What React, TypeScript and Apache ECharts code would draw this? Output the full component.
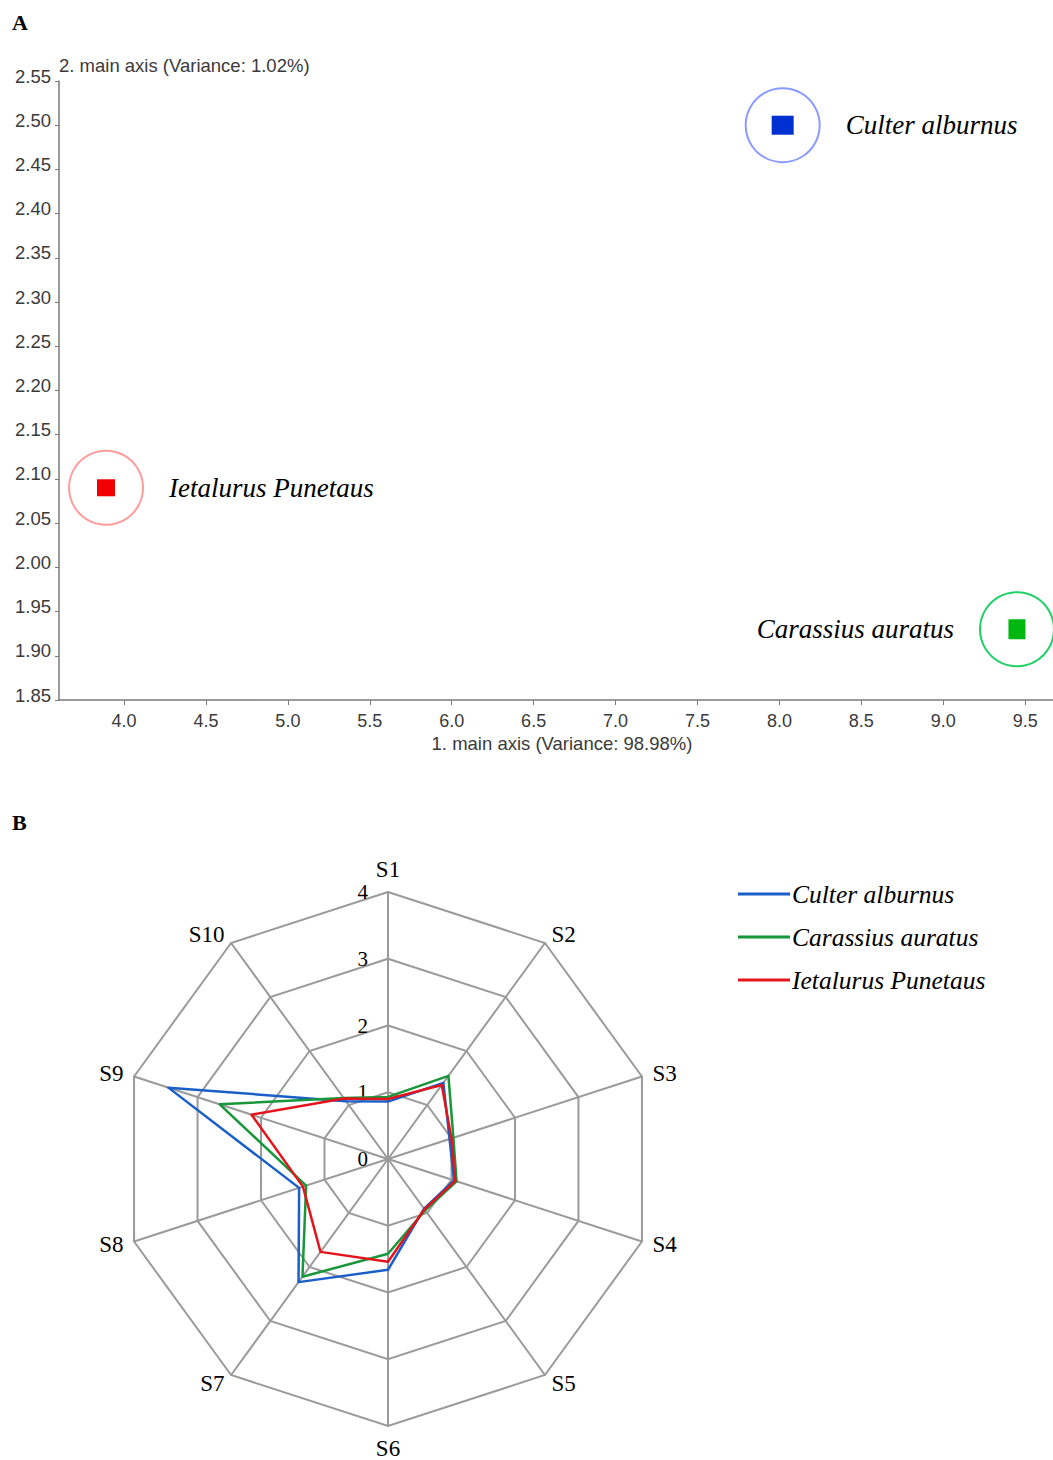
import React, { useEffect, useRef } from "react";
import * as echarts from "echarts";

// ---- Data (panel A: PCA scatter) ----
const speciesNames = ["Culter alburnus", "Carassius auratus", "Ietalurus Punetaus"];
const pcaX = [8.02, 9.45, 3.89];
const pcaY = [2.5, 1.93, 2.09];
const xTickValues = [4.0, 4.5, 5.0, 5.5, 6.0, 6.5, 7.0, 7.5, 8.0, 8.5, 9.0, 9.5];
const yTickValues = [1.85, 1.9, 1.95, 2.0, 2.05, 2.1, 2.15, 2.2, 2.25, 2.3, 2.35, 2.4, 2.45, 2.5, 2.55];
const xAxisTitle = "1. main axis (Variance: 98.98%)";
const yAxisTitle = "2. main axis (Variance: 1.02%)";

// ---- Data (panel B: radar) ----
const sensorNames = ["S1", "S2", "S3", "S4", "S5", "S6", "S7", "S8", "S9", "S10"];
const culterValues = [0.86, 1.41, 0.97, 1.04, 0.92, 1.66, 2.28, 1.4, 3.46, 1.07];
const carassiusValues = [0.93, 1.54, 1.03, 1.08, 0.95, 1.42, 2.18, 1.29, 2.65, 1.13];
const ietalurusValues = [0.9, 1.37, 1.0, 1.06, 0.93, 1.54, 1.72, 1.34, 2.15, 1.12];
const radarMax = 4;

// styles
const dotColors = ["#0030d0", "#00b810", "#f00000"];
const ringColors = ["#8c9bff", "#22d068", "#ff9c9c"];
const lineColors = ["#1a5fc8", "#17973a", "#e3141c"];
const dotSizes = [[22, 19], [17, 20], [18, 17]];
const labelSides = ["right", "left", "right"];

const serif = "'Liberation Serif', 'Times New Roman', serif";
const sans = "'Liberation Sans', Arial, sans-serif";

export default function App() {
  const ref = useRef<HTMLDivElement>(null);
  useEffect(() => {
    if (!ref.current) return;
    const chart = echarts.init(ref.current, undefined, { renderer: "svg" });

    // radar drawn clockwise: reorder indicators
    const order = [0, 9, 8, 7, 6, 5, 4, 3, 2, 1];
    const radarSeriesValues = [culterValues, carassiusValues, ietalurusValues];

    const option: any = {
      animation: false,
      backgroundColor: "#fff",
      graphic: [
        { type: "text", left: 12, top: 11, style: { text: "A", font: `bold 22px ${serif}`, fill: "#000" } },
        { type: "text", left: 12, top: 811, style: { text: "B", font: `bold 22px ${serif}`, fill: "#000" } },
      ],
      grid: { left: 59, right: 0, top: 81, height: 619 },
      xAxis: {
        type: "value",
        min: 3.603,
        max: 9.67,
        name: xAxisTitle,
        nameLocation: "middle",
        nameGap: 34,
        nameTextStyle: { fontFamily: sans, fontSize: 18.5, color: "#3a3a3a", padding: [0, 0, 0, 12] },
        axisLine: { show: true, onZero: false, lineStyle: { color: "#7a7a7a", width: 1.5 } },
        axisTick: { show: true, length: 5, customValues: xTickValues, lineStyle: { color: "#7a7a7a" } },
        axisLabel: {
          customValues: xTickValues,
          formatter: (v: number) => v.toFixed(1),
          fontFamily: sans,
          fontSize: 18,
          color: "#3a3a3a",
          margin: 12,
        },
        splitLine: { show: false },
      },
      yAxis: {
        type: "value",
        min: 1.85,
        max: 2.55,
        name: yAxisTitle,
        nameLocation: "end",
        nameGap: 6,
        nameTextStyle: { fontFamily: sans, fontSize: 18.5, color: "#3a3a3a", align: "left" },
        axisLine: { show: true, onZero: false, lineStyle: { color: "#7a7a7a", width: 1.5 } },
        axisTick: { show: true, length: 4, customValues: yTickValues, lineStyle: { color: "#7a7a7a" } },
        axisLabel: {
          customValues: yTickValues,
          formatter: (v: number) => v.toFixed(2),
          fontFamily: sans,
          fontSize: 18.5,
          color: "#3a3a3a",
          margin: 8,
          verticalAlign: "bottom",
          lineHeight: 10,
        },
        splitLine: { show: false },
      },
      radar: {
        center: [388, 1159],
        radius: 267,
        startAngle: 90,
        splitNumber: 4,
        shape: "polygon",
        nameGap: 11,
        axisName: { color: "#000", fontFamily: serif, fontSize: 23 },
        indicator: order.map((i, k) => {
          const ind: any = { name: sensorNames[i], min: 0, max: radarMax };
          if (k === 0) ind.axisLabel = { show: true };
          return ind;
        }),
        splitLine: { lineStyle: { color: "#9a9a9a", width: 2 } },
        splitArea: { show: false },
        axisLine: { lineStyle: { color: "#9a9a9a", width: 2 } },
        axisTick: { show: false },
        axisLabel: {
          show: false,
          color: "#000",
          fontFamily: serif,
          fontSize: 21,
          margin: 20,
          showMinLabel: true,
          showMaxLabel: true,
        },
      },
      legend: {
        orient: "vertical",
        left: 733,
        top: 876,
        icon: "rect",
        itemWidth: 52,
        itemHeight: 3,
        itemGap: 17,
        data: speciesNames,
        textStyle: { fontFamily: serif, fontStyle: "italic", fontSize: 25.5, color: "#000", padding: [0, 0, 0, -3] },
      },
      series: [
        {
          type: "scatter",
          name: "rings",
          clip: false,
          symbol: "circle",
          symbolSize: 74,
          silent: true,
          data: pcaX.map((x, i) => ({
            value: [x, pcaY[i]],
            itemStyle: { color: "rgba(0,0,0,0)", borderColor: ringColors[i], borderWidth: 2, opacity: 1 },
            label: {
              show: true,
              position: labelSides[i],
              distance: 25,
              formatter: speciesNames[i],
              fontFamily: serif,
              fontStyle: "italic",
              fontSize: 27,
              color: "#000",
            },
          })),
        },
        {
          type: "scatter",
          name: "dots",
          clip: false,
          symbol: "rect",
          silent: true,
          data: pcaX.map((x, i) => ({
            value: [x, pcaY[i]],
            symbolSize: dotSizes[i],
            itemStyle: { color: dotColors[i], opacity: 1 },
          })),
        },
        {
          type: "radar",
          symbol: "none",
          data: radarSeriesValues.map((vals, s) => ({
            name: speciesNames[s],
            value: order.map((i) => vals[i]),
            lineStyle: { color: lineColors[s], width: 2.5 },
            itemStyle: { color: lineColors[s] },
          })),
        },
      ],
    };
    chart.setOption(option);
    return () => chart.dispose();
  }, []);
  return (
    <div
      ref={ref}
      style={{ position: "absolute", left: 0, top: 0, width: 1053, height: 1460 }}
    />
  );
}
